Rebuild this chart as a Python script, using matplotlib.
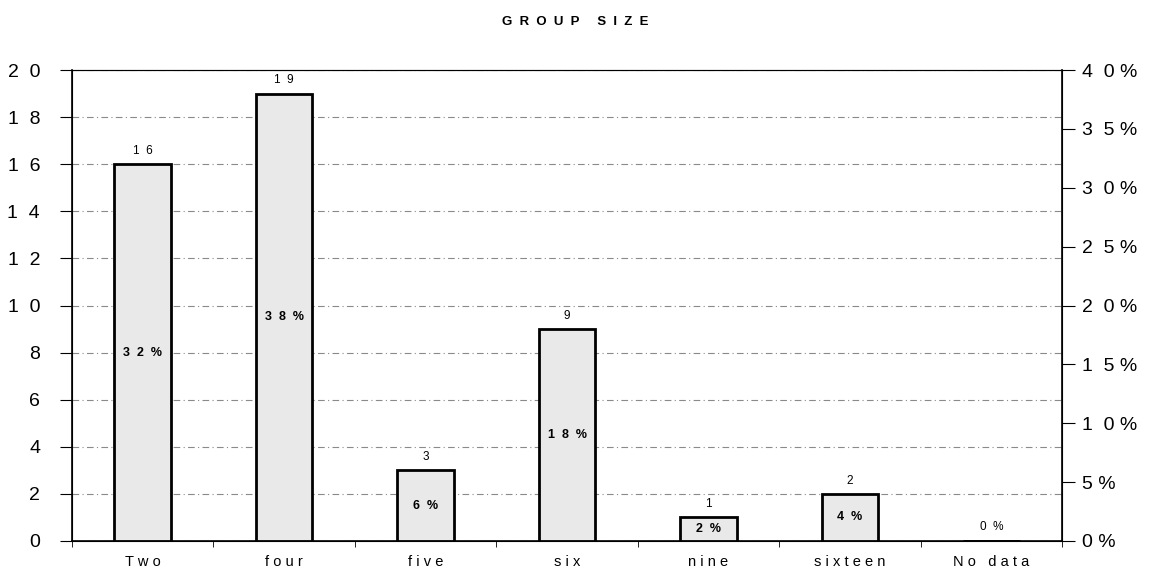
import matplotlib.pyplot as plt
import numpy as np

plt.rcParams['font.family'] = ['Liberation Sans', 'DejaVu Sans']

# データ
categories = ['Two', 'four', 'five', 'six', 'nine', 'sixteen', 'No data']
counts = [16, 19, 3, 9, 1, 2, 0]
percents = [32, 38, 6, 18, 2, 4, 0]
left_ticks = [0, 2, 4, 6, 8, 10, 12, 14, 16, 18, 20]
right_ticks = [0, 5, 10, 15, 20, 25, 30, 35, 40]


def spaced(s, sep=' '):
    # 文字の間にスペースを入れる
    return sep.join(str(s))


fig = plt.figure(figsize=(11.5, 5.72), dpi=100)
ax = fig.add_axes([0.0626, 0.0542, 0.861, 0.8234])

x = np.arange(len(categories))
bars = ax.bar(x, counts, width=0.4, facecolor='#e9e9e9', edgecolor='black',
              linewidth=2, zorder=3)

ax.set_xlim(-0.5, len(categories) - 0.5)
ax.set_ylim(0, 20)
ax.set_yticks(left_ticks)
ax.set_yticklabels([spaced(t, '  ') for t in left_ticks], fontsize=14)
ax.set_xticks(x)
ax.set_xticklabels([spaced(c) for c in categories], fontsize=10.5)
ax.tick_params(axis='x', length=0, pad=10)
ax.set_xticks(np.arange(len(categories) + 1) - 0.5, minor=True)
ax.tick_params(axis='x', which='minor', length=4, direction='out')
ax.tick_params(axis='y', length=9, direction='out', pad=14)
ax.grid(axis='y', color='#8a8a8a', linestyle=(0, (6, 3, 1, 3)), linewidth=0.8,
        zorder=0)
ax.spines['left'].set_linewidth(1.2)
ax.spines['bottom'].set_linewidth(1.2)
ax.spines['top'].set_color('#555555')

# 右軸（パーセント）
ax2 = ax.twinx()
ax2.set_ylim(0, 40)
ax2.set_yticks(right_ticks)
ax2.set_yticklabels([spaced(t, '  ') + ' %' for t in right_ticks], fontsize=14)
ax2.tick_params(axis='y', length=9, direction='out', pad=5)
ax2.spines['right'].set_linewidth(1.2)

# ラベル
for xi, c, p in zip(x, counts, percents):
    if c > 0:
        ax.text(xi, c + 0.3, spaced(c, '  '), ha='center', va='bottom',
                fontsize=8.5)
        ax.text(xi, c / 2, spaced(p, '  ') + '  %', ha='center', va='center',
                fontsize=9, fontweight='bold', zorder=5)
    else:
        ax.text(xi, 0.6, spaced(p) + '  %', ha='center', va='center',
                fontsize=8.5, zorder=5)

fig.text(0.5, 0.962, spaced('GROUP', '  ') + '     ' + spaced('SIZE', '  '),
         ha='center', va='center', fontsize=9.5, fontweight='bold')

fig.savefig('out.png', dpi=100)
